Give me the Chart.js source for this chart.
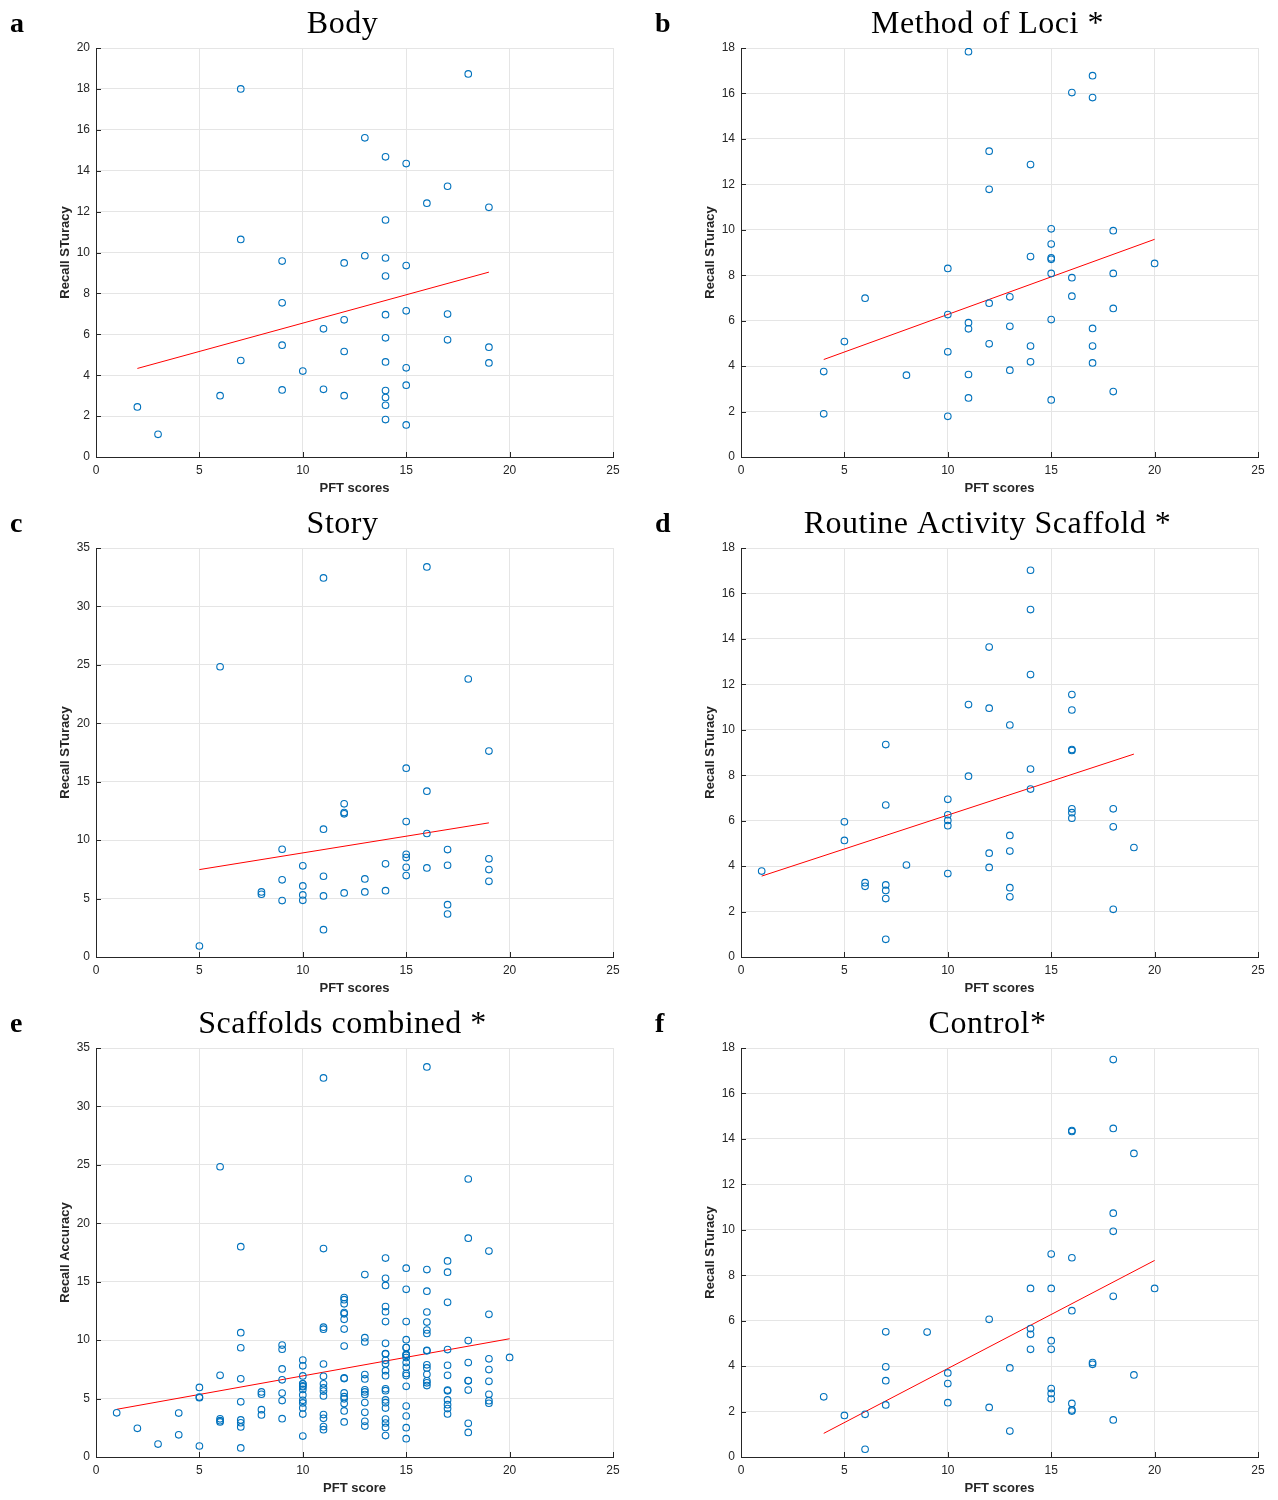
<!DOCTYPE html>
<html>
<head>
<meta charset="utf-8">
<script src="https://cdn.jsdelivr.net/npm/chart.js@4.4.0/dist/chart.umd.min.js"></script>
<style>
  body { margin: 0; background: #fff; }
  #grid { display: grid; grid-template-columns: 639px 639px; grid-template-rows: 500px 500px 500px; width: 1278px; }
  canvas { display: block; }
</style>
</head>
<body>
<div id="grid">
  <canvas id="pa" width="639" height="500"></canvas>
  <canvas id="pb" width="639" height="500"></canvas>
  <canvas id="pc" width="639" height="500"></canvas>
  <canvas id="pd" width="639" height="500"></canvas>
  <canvas id="pe" width="639" height="500"></canvas>
  <canvas id="pf" width="639" height="500"></canvas>
</div>
<script>
// PFT score (x) and recall (y) for each participant
const bodyX = [2,3,6,7,7,7,9,9,9,9,10,11,11,12,12,12,12,13,13,14,14,14,14,14,14,14,14,14,14,14,15,15,15,15,15,15,16,17,17,17,18,19,19,19];
const bodyY = [2.45,1.11,3.0,18.0,10.64,4.72,9.58,7.54,5.47,3.28,4.20,6.27,3.31,9.49,6.71,5.16,3.0,15.61,9.84,14.68,11.59,9.73,8.85,6.96,5.83,4.65,3.25,2.91,2.53,1.83,14.35,9.36,7.15,4.36,3.51,1.57,12.41,13.24,6.99,5.73,18.73,12.21,5.37,4.60];

const lociX = [4,4,5,6,8,10,10,10,10,11,11,11,11,11,12,12,12,12,13,13,13,14,14,14,14,15,15,15,15,15,15,15,16,16,16,17,17,17,17,17,18,18,18,18,20];
const lociY = [3.76,1.90,5.08,6.99,3.60,8.30,6.27,4.63,1.79,17.84,5.91,5.64,3.63,2.60,13.46,11.78,6.77,4.98,7.05,5.75,3.82,12.87,8.82,4.88,4.19,10.04,9.37,8.76,8.70,8.08,6.05,2.51,16.04,7.89,7.08,16.78,15.82,5.66,4.88,4.14,9.96,8.08,6.54,2.88,8.52];

const storyX = [5,6,8,8,9,9,9,10,10,10,10,11,11,11,11,11,12,12,12,12,13,13,14,14,15,15,15,15,15,15,16,16,16,16,17,17,17,17,18,19,19,19,19];
const storyY = [0.94,24.84,5.57,5.37,9.22,6.60,4.83,7.80,6.08,5.31,4.85,32.44,10.94,6.91,5.23,2.34,13.11,12.36,12.25,5.48,6.68,5.57,7.97,5.68,16.16,11.59,8.79,8.51,7.68,6.97,33.38,14.19,10.57,7.62,9.19,7.85,4.48,3.68,23.79,17.62,8.40,7.48,6.48];

const routineX = [1,5,5,6,6,7,7,7,7,7,7,8,10,10,10,10,10,11,11,12,12,12,12,13,13,13,13,13,14,14,14,14,14,16,16,16,16,16,16,16,18,18,18,19];
const routineY = [3.78,5.95,5.13,3.27,3.11,9.35,6.69,3.17,2.93,2.57,0.78,4.05,6.94,6.26,6.01,5.78,3.67,11.11,7.96,13.64,10.95,4.57,3.94,10.21,5.35,4.66,3.05,2.65,17.02,15.29,12.43,8.27,7.39,11.55,10.87,9.13,9.09,6.52,6.35,6.11,6.52,5.73,2.10,4.82];

const controlX = [4,5,6,6,7,7,7,7,9,10,10,10,12,12,13,13,14,14,14,14,15,15,15,15,15,15,15,16,16,16,16,16,16,16,17,17,18,18,18,18,18,18,19,19,20];
const controlY = [2.65,1.83,1.88,0.34,5.51,3.97,3.36,2.29,5.50,3.70,3.23,2.39,6.06,2.18,3.92,1.14,7.42,5.65,5.40,4.74,8.93,7.42,5.12,4.74,3.01,2.80,2.55,14.37,14.33,8.77,6.44,2.36,2.07,2.02,4.16,4.08,17.49,14.46,10.73,9.93,7.07,1.63,13.36,3.61,7.42];

// panel e pools the four scaffold groups
const combinedX = [].concat(bodyX, lociX, storyX, routineX);
const combinedY = [].concat(bodyY, lociY, storyY, routineY);

// end points of the red least-squares lines
const bodyFitX = [2, 19],     bodyFitY = [4.33, 9.04];
const lociFitX = [4, 20],     lociFitY = [4.29, 9.58];
const storyFitX = [5, 19],    storyFitY = [7.48, 11.48];
const routineFitX = [1, 19],  routineFitY = [3.56, 8.93];
const combinedFitX = [1, 20], combinedFitY = [4.08, 10.12];
const controlFitX = [4, 20],  controlFitY = [1.04, 8.65];

function pts(xs, ys) {
  return xs.map((x, i) => ({ x: x, y: ys[i] }));
}

const AXIS = '#262626';
const GRID = '#e5e5e5';
const SANS = '"Liberation Sans", Arial, Helvetica, sans-serif';
const SERIF = '"Liberation Serif", "Times New Roman", serif';

// letter, title, axis titles and the small inward ticks (MATLAB style)
const panelText = {
  id: 'panelText',
  afterDraw(chart, args, o) {
    const ctx = chart.ctx, a = chart.chartArea;
    const sx = chart.scales.x, sy = chart.scales.y;
    ctx.save();
    ctx.strokeStyle = AXIS;
    ctx.lineWidth = 1;
    ctx.beginPath();
    sy.ticks.forEach(t => {
      const py = Math.round(sy.getPixelForValue(t.value)) + 0.5;
      ctx.moveTo(a.left, py); ctx.lineTo(a.left + 5, py);
    });
    sx.ticks.forEach(t => {
      const px = Math.round(sx.getPixelForValue(t.value)) + 0.5;
      ctx.moveTo(px, a.bottom); ctx.lineTo(px, a.bottom - 5);
    });
    ctx.stroke();

    ctx.fillStyle = '#000';
    ctx.textBaseline = 'alphabetic';
    ctx.textAlign = 'left';
    ctx.font = 'bold 28px ' + SERIF;
    ctx.fillText(o.letter, a.left - 86, 32);

    // title is a bit wider in the original (Computer Modern)
    ctx.textAlign = 'center';
    ctx.font = '32px ' + SERIF;
    ctx.letterSpacing = '0.5px';
    ctx.fillText(o.title, (a.left + a.right) / 2 - 12, 33);
    ctx.letterSpacing = '0px';

    ctx.fillStyle = AXIS;
    ctx.textBaseline = 'middle';
    ctx.font = 'bold 13px ' + SANS;
    ctx.fillText(o.xTitle, (a.left + a.right) / 2, a.bottom + 31);

    ctx.translate(a.left - 31, (a.top + a.bottom) / 2);
    ctx.rotate(-Math.PI / 2);
    ctx.fillText(o.yTitle, 0, 0);
    ctx.restore();
  }
};

function gridColor(c) {
  return c.tick && c.tick.value === 0 ? AXIS : GRID;
}

function makePanel(id, text, xs, ys, fitX, fitY, yMax, yStep, leftW, rightPad) {
  new Chart(document.getElementById(id), {
    type: 'scatter',
    data: {
      datasets: [
        {
          data: pts(xs, ys),
          pointStyle: 'circle',
          pointRadius: 3.3,
          pointBorderWidth: 1.1,
          borderColor: '#0072BD',
          backgroundColor: 'rgba(0,0,0,0)'
        },
        {
          data: pts(fitX, fitY),
          showLine: true,
          borderColor: '#ff0000',
          borderWidth: 1,
          pointRadius: 0
        }
      ]
    },
    options: {
      responsive: false,
      animation: false,
      events: [],
      devicePixelRatio: 1,
      layout: { padding: { top: 48, left: 0, right: rightPad, bottom: 0 } },
      scales: {
        x: {
          type: 'linear',
          min: 0,
          max: 25,
          ticks: { stepSize: 5, padding: 6, color: AXIS, font: { family: SANS, size: 12 } },
          grid: { color: gridColor, drawTicks: false },
          border: { color: AXIS },
          afterFit: s => { s.height = 43; s.paddingLeft = 0; s.paddingRight = 0; }
        },
        y: {
          min: 0,
          max: yMax,
          ticks: { stepSize: yStep, padding: 6, color: AXIS, font: { family: SANS, size: 12 } },
          grid: { color: gridColor, drawTicks: false },
          border: { color: AXIS },
          afterFit: s => { s.width = leftW; s.paddingTop = 0; s.paddingBottom = 0; }
        }
      },
      plugins: {
        legend: { display: false },
        tooltip: { enabled: false },
        panelText: text
      }
    },
    plugins: [panelText]
  });
}

makePanel('pa', { letter: 'a', title: 'Body', xTitle: 'PFT scores', yTitle: 'Recall STuracy' },
  bodyX, bodyY, bodyFitX, bodyFitY, 20, 2, 96, 26);
makePanel('pb', { letter: 'b', title: 'Method of Loci *', xTitle: 'PFT scores', yTitle: 'Recall STuracy' },
  lociX, lociY, lociFitX, lociFitY, 18, 2, 102, 20);
makePanel('pc', { letter: 'c', title: 'Story', xTitle: 'PFT scores', yTitle: 'Recall STuracy' },
  storyX, storyY, storyFitX, storyFitY, 35, 5, 96, 26);
makePanel('pd', { letter: 'd', title: 'Routine Activity Scaffold *', xTitle: 'PFT scores', yTitle: 'Recall STuracy' },
  routineX, routineY, routineFitX, routineFitY, 18, 2, 102, 20);
makePanel('pe', { letter: 'e', title: 'Scaffolds combined *', xTitle: 'PFT score', yTitle: 'Recall Accuracy' },
  combinedX, combinedY, combinedFitX, combinedFitY, 35, 5, 96, 26);
makePanel('pf', { letter: 'f', title: 'Control*', xTitle: 'PFT scores', yTitle: 'Recall STuracy' },
  controlX, controlY, controlFitX, controlFitY, 18, 2, 102, 20);
</script>
</body>
</html>
